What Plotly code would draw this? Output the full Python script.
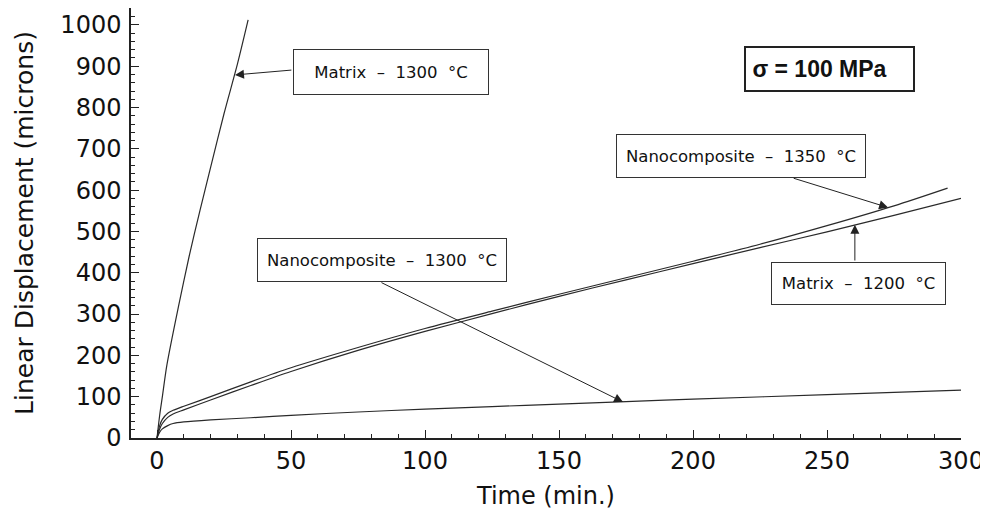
import plotly.graph_objects as go

# ---- data ----
t_m1300 = [0, 1, 2, 3.7, 8, 12, 16, 20, 25, 30, 34]
d_m1300 = [0, 55, 100, 177, 318, 440, 550, 655, 785, 905, 1012]

t_n1350 = [0, 1, 2, 4, 6, 10, 20, 35, 50, 75, 100, 125, 150, 175, 200, 225, 250, 275, 295]
d_n1350 = [0, 30, 45, 60, 67, 77, 100, 136, 170, 219, 265, 307, 348, 388, 428, 469, 514, 562, 605]

t_m1200 = [0, 1, 2, 4, 6, 10, 20, 35, 50, 75, 100, 125, 150, 175, 200, 225, 250, 275, 300]
d_m1200 = [0, 22, 35, 50, 58, 68, 92, 127, 161, 212, 258, 301, 343, 383, 422, 461, 499, 539, 580]

t_n1300 = [0, 1, 2, 4, 6, 10, 20, 35, 50, 75, 100, 125, 150, 175, 200, 250, 300]
d_n1300 = [0, 14, 22, 30, 35, 39, 44, 49, 55, 63, 70, 76, 82, 88, 94, 105, 116]

x_ticks = [0, 50, 100, 150, 200, 250, 300]
y_ticks = [0, 100, 200, 300, 400, 500, 600, 700, 800, 900, 1000]

# label boxes: (text, center t, center value, width px, height px)
labels = [
    ("Matrix  –  1300  °C", 87.3, 886, 196, 46),
    ("Nanocomposite  –  1350  °C", 218, 683, 250, 44),
    ("Matrix  –  1200  °C", 261.6, 375, 175, 43),
    ("Nanocomposite  –  1300  °C", 84, 431, 250, 44),
]
# arrows: (tail t, tail value, tip t, tip value)
arrows = [
    (50.7, 891, 29.1, 879),
    (237, 630, 272.8, 558),
    (260.4, 426, 260.4, 516),
    (83.2, 378, 173.9, 87),
]

FONT = "DejaVu Sans"
LINE = dict(color="#2a2a2a", width=1.2)

fig = go.Figure()
for t, d in [(t_m1300, d_m1300), (t_n1350, d_n1350), (t_m1200, d_m1200), (t_n1300, d_n1300)]:
    fig.add_trace(go.Scatter(x=t, y=d, mode="lines", line=dict(LINE, shape="spline", smoothing=0.8),
                             showlegend=False, hoverinfo="skip"))

for text, cx, cy, w, h in labels:
    fig.add_annotation(x=cx, y=cy, xref="x", yref="y", text=text, showarrow=False,
                       width=w - 2, height=h - 2, borderpad=0, bordercolor="#333",
                       borderwidth=1, bgcolor="white",
                       font=dict(family=FONT, size=16.5, color="#111"))

fig.add_annotation(x=251, y=893, xref="x", yref="y", text="&nbsp;<b>σ = 100 MPa</b>",
                   showarrow=False, width=167, height=42, borderpad=0, align="left",
                   bordercolor="#222", borderwidth=2, bgcolor="white",
                   font=dict(family="Liberation Sans", size=23, color="#111"))

for tx, ty, hx, hy in arrows:
    fig.add_annotation(x=hx, y=hy, ax=tx, ay=ty, xref="x", yref="y", axref="x", ayref="y",
                       text="", showarrow=True, arrowhead=2, arrowsize=1.8, arrowwidth=1,
                       arrowcolor="#222", standoff=0, startstandoff=0)

# the page adds an 8 px body margin, so the figure is 8 px smaller and shifted
fig.update_layout(
    width=980, height=510,
    margin=dict(l=123, r=27, t=0, b=80),
    plot_bgcolor="white", paper_bgcolor="white",
    font=dict(family=FONT, color="#111"),
)
fig.update_xaxes(
    range=[-9.7, 300], tickvals=x_ticks, ticktext=[str(v) for v in x_ticks],
    automargin=False,
    showline=True, linecolor="#222", linewidth=1.5, showgrid=False, zeroline=False,
    ticks="inside", ticklen=8, tickcolor="#222", tickwidth=1,
    minor=dict(dtick=10, tick0=0, ticks="inside", ticklen=4, tickcolor="#222", tickwidth=1, showgrid=False),
    tickfont=dict(family=FONT, size=24, color="#111"),
    title=dict(text="Time (min.)", font=dict(family=FONT, size=24, color="#111"), standoff=14),
)
fig.update_yaxes(
    range=[0, 1041], tickvals=y_ticks, ticktext=[str(v) for v in y_ticks],
    automargin=False, ticklabelstandoff=3,
    showline=True, linecolor="#222", linewidth=1.5, showgrid=False, zeroline=False,
    ticks="inside", ticklen=8, tickcolor="#222", tickwidth=1,
    minor=dict(dtick=20, tick0=0, ticks="inside", ticklen=4, tickcolor="#222", tickwidth=1, showgrid=False),
    tickfont=dict(family=FONT, size=24, color="#111"),
    title=dict(text="Linear Displacement (microns)", font=dict(family=FONT, size=25, color="#111"), standoff=20),
)

fig.write_html("out.html")
